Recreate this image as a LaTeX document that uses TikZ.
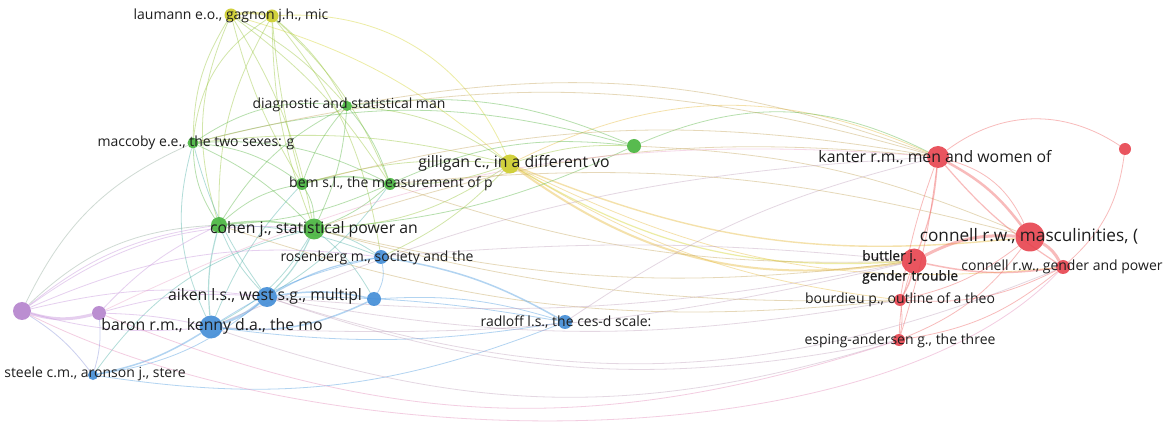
\documentclass[tikz,border=0pt]{standalone}
\usepackage{fontspec}
\setmainfont{Open Sans}
\usetikzlibrary{backgrounds}
\definecolor{nR}{RGB}{231,67,78}
\definecolor{nG}{RGB}{70,180,60}
\definecolor{nB}{RGB}{65,140,215}
\definecolor{nY}{RGB}{205,205,40}
\definecolor{nP}{RGB}{180,130,205}
\definecolor{cR}{RGB}{240,105,105}
\definecolor{cG}{RGB}{95,185,75}
\definecolor{cY}{RGB}{215,215,55}
\definecolor{cB}{RGB}{85,160,225}
\definecolor{cP}{RGB}{200,150,220}
\definecolor{cO}{RGB}{232,190,70}
\definecolor{cGY}{RGB}{155,200,65}
\definecolor{cGB}{RGB}{85,180,170}
\definecolor{cGR}{RGB}{200,170,100}
\definecolor{cBR}{RGB}{185,150,180}
\definecolor{cPR}{RGB}{230,145,190}
\definecolor{cBP}{RGB}{140,150,220}
\definecolor{cGP}{RGB}{150,175,160}
\definecolor{txt}{RGB}{30,30,30}
\tikzset{
  ed/.style={line width=0.8pt, draw opacity=0.45},
  eR/.style={ed, draw=cR}, eG/.style={ed, draw=cG}, eY/.style={ed, draw=cY},
  eB/.style={ed, draw=cB}, eP/.style={ed, draw=cP}, eO/.style={ed, draw=cO},
  eGY/.style={ed, draw=cGY}, eGB/.style={ed, draw=cGB}, eGR/.style={ed, draw=cGR},
  eBR/.style={ed, draw=cBR, draw opacity=0.38}, ePR/.style={ed, draw=cPR}, eBP/.style={ed, draw=cBP},
  eGP/.style={ed, draw=cGP},
  dot/.style={circle, inner sep=0pt, draw=none, fill opacity=0.9},
  rN/.style={dot, fill=nR}, gN/.style={dot, fill=nG}, bN/.style={dot, fill=nB},
  yN/.style={dot, fill=nY}, pN/.style={dot, fill=nP},
  lblS/.style={text=txt, inner sep=0pt, font=\fontsize{14}{15}\selectfont},
  lblL/.style={text=txt, inner sep=0pt, font=\fontsize{15.8}{17}\selectfont},
  lblX/.style={text=txt, inner sep=0pt, font=\fontsize{17.2}{19}\selectfont},
  lblB/.style={text=txt, inner sep=0pt, anchor=west, font=\fontsize{13.8}{15}\selectfont\addfontfeatures{FakeBold=0.8}},
}
\begin{document}
\begin{tikzpicture}[x=1pt,y=-1pt]
\useasboundingbox (0,0) rectangle (1170,430);
% nodes
\node[yN, minimum size=13pt] (L1) at (231,15) {};
\node[yN, minimum size=13pt] (L2) at (272,16) {};
\node[yN, minimum size=19pt] (GIL) at (510,164) {};
\node[gN, minimum size=10pt] (DSM) at (347,106) {};
\node[gN, minimum size=11pt] (MAC) at (193,143) {};
\node[gN, minimum size=12pt] (BEM1) at (302,184) {};
\node[gN, minimum size=12pt] (BEM2) at (390,184) {};
\node[gN, minimum size=16pt] (COH1) at (219,225) {};
\node[gN, minimum size=21pt] (COH2) at (314,229) {};
\node[gN, minimum size=14pt] (GLONE) at (634,146) {};
\node[bN, minimum size=14pt] (ROS) at (381,257) {};
\node[bN, minimum size=20pt] (AIK) at (267,297) {};
\node[bN, minimum size=14pt] (BSM) at (374,299) {};
\node[bN, minimum size=23pt] (BAR) at (211,327) {};
\node[bN, minimum size=10pt] (STE) at (93,375) {};
\node[bN, minimum size=14pt] (RAD) at (565,322) {};
\node[pN, minimum size=18pt] (P1) at (22,311) {};
\node[pN, minimum size=14pt] (P2) at (99,313) {};
\node[rN, minimum size=22pt] (KAN) at (938,157) {};
\node[rN, minimum size=12pt] (RTR) at (1125,149) {};
\node[rN, minimum size=29pt] (CON) at (1030,237) {};
\node[rN, minimum size=25pt] (BUT) at (914,261) {};
\node[rN, minimum size=14pt] (CGP) at (1063,267) {};
\node[rN, minimum size=12pt] (BOU) at (900,300) {};
\node[rN, minimum size=12pt] (ESP) at (899,340) {};
\begin{scope}[on background layer]
\fill[white] (0,0) rectangle (1170,430);
% yellow
\draw[eY, line width=2.5pt] (L1) to[bend left=10] (L2);
\draw[eGY] (L1) to[bend right=15] (MAC);
\draw[eGY] (L1) to[bend right=20] (COH1);
\draw[eGY] (L1) to[bend left=10] (COH2);
\draw[eGY] (L1) to[bend right=8] (BEM1);
\draw[eGY] (L1) to[bend left=10] (BEM2);
\draw[eGY] (L1) to[bend left=10] (DSM);
\draw[eY] (L1) to[bend left=12] (GIL);
\draw[eY] (L2) to[bend left=35] (GIL);
\draw[eGY] (L2) to[bend left=10] (DSM);
\draw[eGY] (L2) to[bend left=12] (BEM2);
\draw[eGY] (L2) to[bend right=10] (COH2);
\draw[eGY] (L2) to[bend right=25] (MAC);
\draw[eGY] (L2) to[bend right=5] (BEM1);
\draw[eGY] (L2) to[bend right=15] (COH1);
\draw[eGY] (L2) to[bend left=15] (ROS);
% gilligan
\draw[eO, line width=2pt] (GIL) to[bend right=22] (BUT);
\draw[eY, line width=1.2pt] (GIL) to[bend right=17] (BUT);
\draw[eO, line width=1.4pt] (GIL) to[bend right=14] (CON);
\draw[eO] (GIL) to[bend right=16] (CGP);
\draw[eO] (GIL) to[bend left=25] (KAN);
\draw[eO] (GIL) to[bend right=12] (BOU);
\draw[eGY] (GIL) to[bend left=10] (BEM2);
\draw[eGY] (GIL) to[bend left=15] (COH2);
\draw[eGY] (GIL) to[bend right=10] (BEM1);
\draw[eGY] (GIL) to[bend right=15] (DSM);
\draw[eGY] (GIL) to[bend right=10] (MAC);
\draw[eGY] (GIL) to[bend left=10] (ROS);
\draw[eGY] (GIL) to[bend left=10] (GLONE);
% green
\draw[eG] (MAC) to[bend right=15] (COH1);
\draw[eG] (MAC) to[bend left=10] (COH2);
\draw[eG] (MAC) to[bend left=15] (BEM1);
\draw[eG] (MAC) to[bend left=15] (BEM2);
\draw[eG] (MAC) to[bend left=20] (DSM);
\draw[eGB] (MAC) to[bend right=20] (BAR);
\draw[eGB] (MAC) to[bend right=10] (AIK);
\draw[eG] (MAC) to[bend left=15] (GLONE);
\draw[eGP] (MAC) to[bend right=20] (P1);
\draw[eG] (DSM) to[bend right=10] (BEM1);
\draw[eG] (DSM) to[bend left=10] (BEM2);
\draw[eG] (DSM) to[bend left=10] (COH2);
\draw[eG] (DSM) to[bend right=15] (COH1);
\draw[eG] (DSM) to[bend left=15] (GLONE);
\draw[eGR] (DSM) to[bend left=15] (KAN);
\draw[eG, line width=1.5pt] (BEM1) to[bend left=15] (BEM2);
\draw[eG] (BEM1) to[bend left=15] (COH2);
\draw[eG] (BEM2) to[bend left=10] (COH2);
\draw[eG] (BEM1) to[bend right=15] (COH1);
\draw[eG] (BEM2) to[bend left=10] (COH1);
\draw[eG] (BEM2) to[bend left=15] (GLONE);
\draw[eGB] (BEM2) to[bend left=10] (AIK);
\draw[eGB] (BEM1) to[bend right=10] (BAR);
\draw[eG, line width=1.5pt] (COH1) to[bend left=10] (COH2);
\draw[eGB] (COH1) to[bend right=10] (AIK);
\draw[eGB, line width=1.2pt] (COH1) to[bend right=10] (BAR);
\draw[eGB, line width=1.2pt] (COH2) to[bend left=10] (AIK);
\draw[eGB] (COH2) to[bend left=15] (BAR);
\draw[eGB] (COH2) to[bend left=10] (ROS);
\draw[eGB] (COH2) to[bend left=10] (BSM);
\draw[eGB] (COH1) to[bend left=10] (ROS);
\draw[eGB] (COH2) to[bend right=20] (STE);
\draw[eGP] (COH1) to[bend right=20] (P1);
\draw[eG] (GLONE) to[bend left=25] (KAN);
\draw[eGR] (GLONE) to[bend left=10] (CON);
\draw[eG] (GLONE) to[bend left=10] (COH2);
\draw[eGR] (COH2) to[bend left=12] (KAN);
\draw[eGR] (MAC) to[bend left=15] (KAN);
\draw[eGR] (BEM2) to[bend right=10] (BUT);
\draw[eGR] (COH2) to[bend right=10] (BUT);
\draw[eGR] (COH1) to[bend right=12] (BOU);
\draw[eGR] (BEM1) to[bend left=12] (KAN);
% blue
\draw[eB, line width=2.5pt] (AIK) to[bend left=10] (BAR);
\draw[eB, line width=1.5pt] (AIK) to[bend left=10] (BSM);
\draw[eB, line width=1.2pt] (AIK) to[bend left=10] (ROS);
\draw[eB] (BAR) to[bend left=10] (ROS);
\draw[eB, line width=1.5pt] (BAR) to[bend right=15] (BSM);
\draw[eB, line width=1.5pt] (BAR) to[bend left=10] (STE);
\draw[eB] (AIK) to[bend left=15] (STE);
\draw[eB, line width=1.5pt] (ROS) to[bend left=10] (RAD);
\draw[eB] (BSM) to[bend left=10] (RAD);
\draw[eB] (BAR) to[bend right=8] (RAD);
\draw[eB] (AIK) to[bend left=5] (RAD);
\draw[eB] (ROS) to[bend left=20] (BSM);
\draw[eBP] (STE) to[bend right=10] (P1);
\draw[eBP] (STE) to[bend right=10] (P2);
\draw[eBR] (RAD) to[bend left=10] (KAN);
\draw[eB] (STE) to[bend right=15] (RAD);
\draw[eBR] (BAR) to[bend right=8] (BUT);
\draw[eBR] (AIK) to[bend right=10] (BOU);
\draw[eBR] (ROS) to[bend left=5] (BUT);
\draw[eBR] (BAR) to[bend right=18] (ESP);
\draw[eBR] (AIK) to[bend right=20] (CGP);
% purple
\draw[eP, line width=3pt] (P1) to[bend right=15] (P2);
\draw[eP] (P1) to[bend left=15] (COH1);
\draw[eP] (P1) to[bend left=20] (COH2);
\draw[eP] (P1) to[bend left=10] (AIK);
\draw[eP] (P1) to[bend right=10] (BAR);
\draw[eP] (P1) to[bend left=15] (ROS);
\draw[eP] (P2) to[bend left=5] (BAR);
\draw[eP] (P2) to[bend left=10] (AIK);
\draw[eP] (P2) to[bend left=10] (COH1);
\draw[ePR] (P2) to[bend right=20] (ESP);
\draw[ePR] (P1) .. controls (330,465) and (880,460) .. (CGP);
\draw[ePR, draw opacity=0.35] (P2) to[bend left=15] (KAN);
% red
\draw[eR, line width=2.5pt] (KAN) to[bend left=12] (CON);
\draw[eR] (KAN) to[bend left=25] (CON);
\draw[eR] (KAN) to[bend left=35] (RTR);
\draw[eR] (RTR) to[bend left=20] (CGP);
\draw[eR, line width=1.2pt] (KAN) to[bend left=8] (BUT);
\draw[eR, line width=1.2pt] (KAN) to[bend right=8] (CGP);
\draw[eR] (KAN) to[bend right=5] (BOU);
\draw[eR] (KAN) to[bend left=5] (ESP);
\draw[eR, line width=3pt] (CON) to[bend right=15] (BUT);
\draw[eR, line width=3pt] (CON) to[bend left=15] (CGP);
\draw[eR, line width=1.5pt] (BUT) to[bend right=10] (CGP);
\draw[eR, line width=1.5pt] (BUT) to[bend left=10] (BOU);
\draw[eR] (BUT) to[bend right=8] (ESP);
\draw[eR] (BOU) to[bend left=10] (ESP);
\draw[eR] (CGP) to[bend left=15] (BOU);
\draw[eR] (CGP) to[bend left=15] (ESP);
\draw[eR] (CON) to[bend left=12] (BOU);
\draw[eR] (CON) to[bend left=15] (ESP);
\draw[eBR] (KAN) to[bend right=10] (BAR);
\draw[eBR] (BUT) to[bend left=8] (AIK);
\draw[eGR] (CON) to[bend right=10] (BEM2);
\draw[eGR] (BOU) to[bend left=8] (COH2);
\draw[eBR] (ESP) to[bend left=15] (AIK);
\end{scope}
% labels
\node[lblS] (tL) at (231,16) {laumann e.o., gagnon j.h., mic};
\node[lblS] (tDSM) at (349,105) {diagnostic and statistical man};
\node[lblS] (tMAC) at (196,143) {maccoby e.e., the two sexes: g};
\node[lblS] (tBEM) at (391,184) {bem s.l., the measurement of p};
\node[lblL] (tGIL) at (514,163) {gilligan c., in a different vo};
\node[lblL] (tCOH) at (314,229) {cohen j., statistical power an};
\node[lblS] (tROS) at (377,258) {rosenberg m., society and the};
\node[lblL] (tAIK) at (265,296) {aiken l.s., west s.g., multipl};
\node[lblL] (tBAR) at (212,326) {baron r.m., kenny d.a., the mo};
\node[lblS] (tSTE) at (95,374) {steele c.m., aronson j., stere};
\node[lblS] (tRAD) at (566,322) {radloff l.s., the ces-d scale:};
\node[lblL] (tKAN) at (935,157) {kanter r.m., men and women of};
\node[lblX] (tCON) at (1029,236) {connell r.w., masculinities, (};
\node[lblB] (tBUT1) at (862,257) {buttler j.};
\node[lblB] (tBUT2) at (862,277) {gender trouble};
\node[lblS] (tCGP) at (1062,267) {connell r.w., gender and power};
\node[lblS] (tBOU) at (900,300) {bourdieu p., outline of a theo};
\node[lblS] (tESP) at (900,341) {esping-andersen g., the three};
\end{tikzpicture}
\end{document}
